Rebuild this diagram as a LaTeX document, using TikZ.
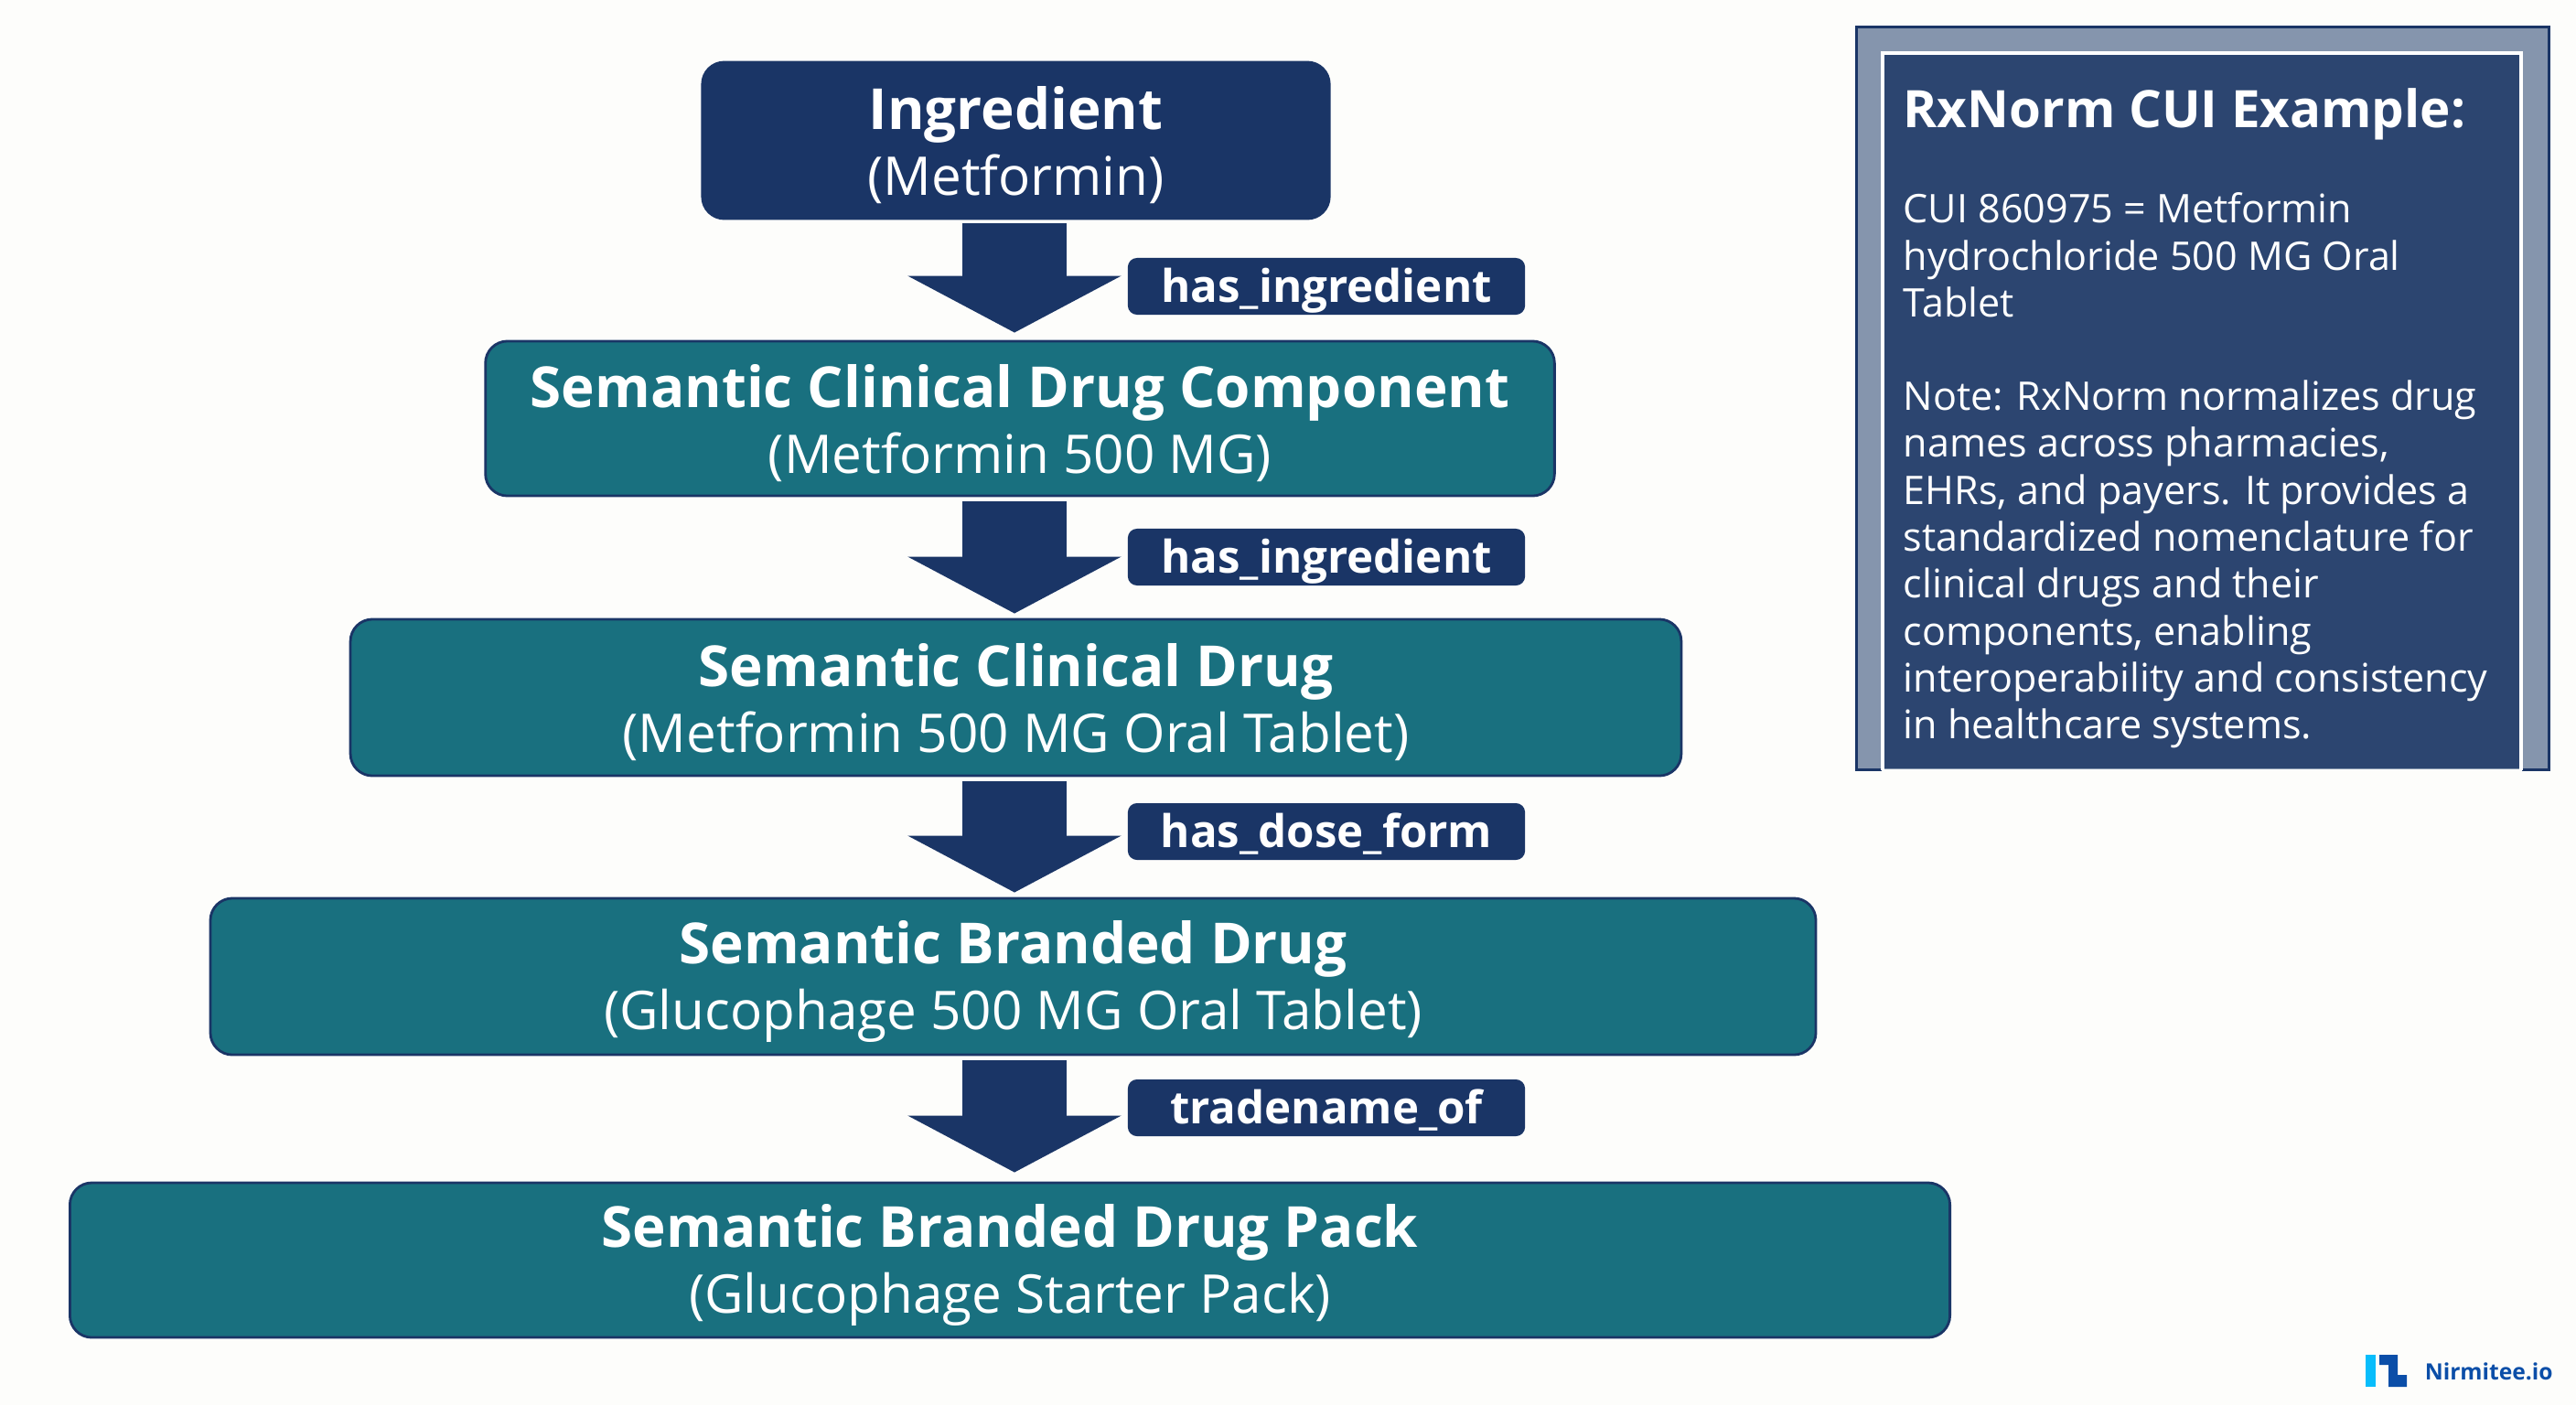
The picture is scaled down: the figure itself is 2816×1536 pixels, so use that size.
\documentclass[tikz,border=0pt]{standalone}
\usepackage{fontspec}
\setmainfont{Open Sans}
\usetikzlibrary{arrows.meta}
\definecolor{bgc}{HTML}{FDFDFB}
\definecolor{navy}{HTML}{1A3566}
\definecolor{teal1}{HTML}{19707F}
\definecolor{panelout}{HTML}{8595AD}
\definecolor{panelin}{HTML}{2C4570}
\definecolor{logolight}{HTML}{08BDFB}
\definecolor{logodark}{HTML}{0B4EA8}
\tikzset{
  x=0.01cm,y=-0.01cm,
  boxbase/.style={rectangle,rounded corners=0.24cm,draw=navy,line width=0.28mm,inner sep=0pt,text=white,align=center,font=\fontsize{16.6}{20.5}\selectfont},
  navybox/.style={boxbase,fill=navy},
  tealbox/.style={boxbase,fill=teal1},
  rellabel/.style={rectangle,rounded corners=0.1cm,fill=navy,text=white,inner sep=0pt,minimum width=4.34cm,minimum height=0.62cm,text height=13.9pt,text depth=3.7pt,font=\fontsize{14}{15}\selectfont\bfseries},
  blockarrow/.style={draw=navy,line width=1.14cm,-{Triangle[length=0.62cm,width=2.31cm,fill=navy]},shorten >=0pt},
  paneltext/.style={text=white,inner sep=0pt,anchor=north west,align=left,font=\fontsize{12.25}{14.6}\selectfont}
}
\newcommand{\boxtitle}[2]{\rule{0pt}{16.5pt}{\bfseries\fontsize{17.6}{20.5}\selectfont #1}\\#2}
\begin{document}
\begin{tikzpicture}
\useasboundingbox (0,0) rectangle (2816,1536);
\fill[bgc] (0,0) rectangle (2816,1536);
\node[navybox,minimum width=6.85cm,minimum height=1.71cm] (ing) at (1110.5,153.5) {\boxtitle{Ingredient}{(Metformin)}};
\node[tealbox,minimum width=11.68cm,minimum height=1.69cm] (scdc) at (1115,457.5) {\boxtitle{Semantic Clinical Drug Component}{(Metformin 500 MG)}};
\node[tealbox,minimum width=14.54cm,minimum height=1.71cm] (scd) at (1110.5,762.5) {\boxtitle{Semantic Clinical Drug}{(Metformin 500 MG Oral Tablet)}};
\node[tealbox,minimum width=17.54cm,minimum height=1.71cm] (sbd) at (1107.5,1067.5) {\boxtitle{Semantic Branded Drug}{(Glucophage 500 MG Oral Tablet)}};
\node[tealbox,minimum width=20.54cm,minimum height=1.69cm] (sbdp) at (1104,1377.5) {\boxtitle{Semantic Branded Drug Pack}{(Glucophage Starter Pack)}};
\coordinate (axis) at (1109,0);
\draw[blockarrow] ([yshift=-0.04cm]axis |- ing.south) -- ([yshift=0.08cm]axis |- scdc.north);
\draw[blockarrow] ([yshift=-0.05cm]axis |- scdc.south) -- ([yshift=0.05cm]axis |- scd.north);
\draw[blockarrow] ([yshift=-0.05cm]axis |- scd.south) -- ([yshift=0.05cm]axis |- sbd.north);
\draw[blockarrow] ([yshift=-0.05cm]axis |- sbd.south) -- ([yshift=0.10cm]axis |- sbdp.north);
\node[rellabel] (l1) at (1450,313) {has\_ingredient};
\node[rellabel] (l2) at (1450,609) {has\_ingredient};
\node[rellabel] (l3) at (1450,909) {has\_dose\_form};
\node[rellabel] (l4) at (1450,1211) {tradename\_of};
\fill[panelout] (2029,29) rectangle (2786,841);
\draw[navy,line width=0.3mm] (2057,841) -- (2029,841) -- (2029,29) -- (2786,29) -- (2786,841) -- (2757,841);
\fill[panelin] (2058,58) rectangle (2756,840);
\draw[white,line width=0.35mm] (2058,842) -- (2058,58) -- (2756,58) -- (2756,842);
\node[paneltext,font=\fontsize{16.05}{18}\selectfont\bfseries] (ptitle) at (2080,96) {RxNorm CUI Example:};
\node[paneltext] (p1) at (2080,210) {CUI 860975 = Metformin\\hydrochloride 500 MG Oral\\Tablet};
\node[paneltext] (p2) at (2080,415) {Note: RxNorm normalizes drug\\names across pharmacies,\\EHRs, and payers. It provides a\\standardized nomenclature for\\clinical drugs and their\\components, enabling\\interoperability and consistency\\in healthcare systems.};
\fill[logolight] (2586,1481) rectangle (2597,1516);
\fill[logodark] (2601,1481) -- (2621,1481) -- (2621,1503) -- (2631,1503) -- (2631,1516) -- (2611,1516) -- (2611,1492) -- (2601,1492) -- cycle;
\node[text=logodark,inner sep=0pt,anchor=base west,font=\fontsize{7.0}{9}\selectfont\bfseries] (brand) at (2650,1508) {Nirmitee.io};
\end{tikzpicture}
\end{document}
